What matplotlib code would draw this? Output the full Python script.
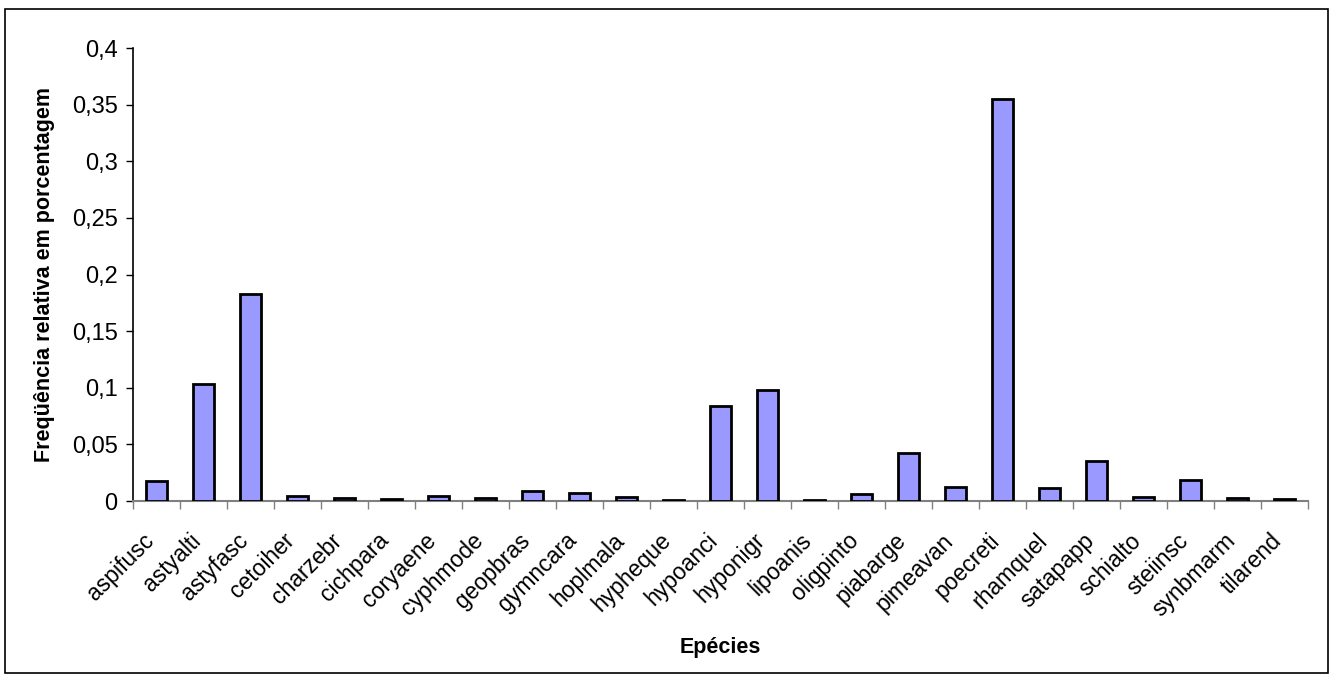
import matplotlib
matplotlib.use("Agg")
import matplotlib.pyplot as plt
from matplotlib.patches import Rectangle
from matplotlib.transforms import ScaledTranslation
import numpy as np

plt.rcParams['font.family'] = ['Liberation Sans', 'DejaVu Sans']

species = ["aspifusc", "astyalti", "astyfasc", "cetoiher", "charzebr", "cichpara",
           "coryaene", "cyphmode", "geopbras", "gymncara", "hoplmala", "hypheque",
           "hypoanci", "hyponigr", "lipoanis", "oligpinto", "piabarge", "pimeavan",
           "poecreti", "rhamquel", "satapapp", "schialto", "steiinsc", "synbmarm",
           "tilarend"]
freq = [0.018, 0.103, 0.183, 0.0044, 0.003, 0.0015,
        0.0044, 0.003, 0.009, 0.0073, 0.0038, 0.0013,
        0.0835, 0.098, 0.0013, 0.006, 0.042, 0.0127,
        0.355, 0.0118, 0.0357, 0.0038, 0.0186, 0.003,
        0.002]
yticks = [0, 0.05, 0.1, 0.15, 0.2, 0.25, 0.3, 0.35, 0.4]
yticklabels = ["0", "0,05", "0,1", "0,15", "0,2", "0,25", "0,3", "0,35", "0,4"]

W, H = 1334, 679
fig = plt.figure(figsize=(W / 100, H / 100), dpi=100)
ax = fig.add_axes([133 / W, 1 - 501 / H, (1308 - 133) / W, (501 - 48) / H])

x = np.arange(len(species)) + 0.5
ax.bar(x, freq, width=0.43, color="#9999FF", edgecolor="black", linewidth=2, zorder=3)

ax.set_xlim(0, len(species))
ax.set_ylim(0, 0.4)
ax.set_yticks(yticks)
ax.set_yticklabels(yticklabels, fontsize=17)
ax.set_xticks(np.arange(len(species) + 1))
ax.set_xticklabels([])
ax.set_xticks(x, minor=True)
ax.set_xticklabels(species, minor=True, rotation=45, ha="right", va="center",
                   rotation_mode="anchor", fontsize=16.5)
ax.tick_params(axis="x", which="minor", length=0, pad=26)
ax.tick_params(axis="x", which="major", length=6, width=1, color="#808080", direction="out")
ax.tick_params(axis="y", which="major", length=5, width=1, direction="out", pad=6)

shift = ScaledTranslation(-6 / 100, 0, fig.dpi_scale_trans)
for lbl in ax.get_xticklabels(minor=True):
    lbl.set_transform(lbl.get_transform() + shift)

for s in ["top", "right"]:
    ax.spines[s].set_visible(False)
ax.spines["left"].set_linewidth(1.2)
ax.spines["bottom"].set_color("#808080")
ax.spines["bottom"].set_linewidth(1.5)

fig.text(45 / W, 1 - 275 / H, "Freqüência relativa em porcentagem", rotation=90,
         ha="center", va="center", fontsize=15.5, fontweight="bold")
fig.text(720 / W, 1 - 648 / H, "Epécies", ha="center", va="center",
         fontsize=15.5, fontweight="bold")

fig.patches.append(Rectangle((5 / W, 1 - 673 / H), (1328 - 5) / W, (673 - 9) / H,
                             transform=fig.transFigure, fill=False,
                             edgecolor="black", linewidth=1.2))

fig.savefig("out.png", dpi=100)
